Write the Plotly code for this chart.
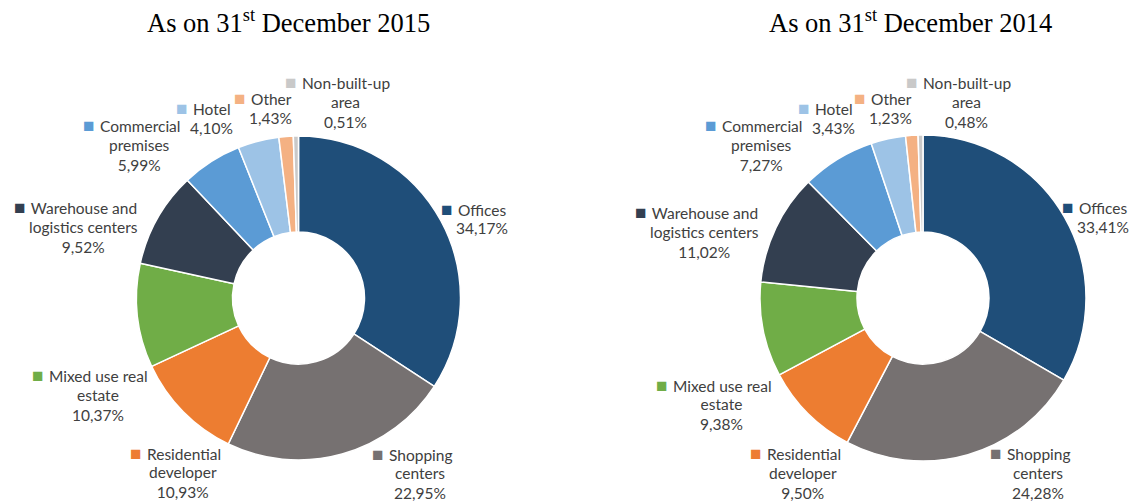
import math
import plotly.graph_objects as go

# ---------------- data ----------------
categories = ["Offices", "Shopping centers", "Residential developer", "Mixed use real estate",
              "Warehouse and logistics centers", "Commercial premises", "Hotel", "Other",
              "Non-built-up area"]
label_lines = [["Offices"], ["Shopping", "centers"], ["Residential", "developer"],
               ["Mixed use real", "estate"], ["Warehouse and", "logistics centers"],
               ["Commercial", "premises"], ["Hotel"], ["Other"], ["Non-built-up", "area"]]
values_2015 = [34.17, 22.95, 10.93, 10.37, 9.52, 5.99, 4.10, 1.43, 0.51]
values_2014 = [33.41, 24.28, 9.50, 9.38, 11.02, 7.27, 3.43, 1.23, 0.48]
title_2015 = "As on 31<sup>st</sup> December 2015"
title_2014 = "As on 31<sup>st</sup> December 2014"

# ---------------- style ----------------
colors = ["#1F4E79", "#767171", "#ED7D31", "#70AD47", "#333F50",
          "#5B9BD5", "#9DC3E6", "#F4B183", "#C9C9C9"]
W, H = 1132, 504
FS = 15.5
LS = 1.3 * FS  # plotly line spacing
LABEL_FONT = dict(family="Lato, Carlito, 'Open Sans', sans-serif", size=FS, color="#404040")
TITLE_FONT = dict(family="'Liberation Serif', 'Times New Roman', serif", size=26.5, color="#000000")
KEY_SHIFT = -8  # half width of the colour key + gap

# pie geometry in pixels (center x, center y from top, radius)
pies = [
    dict(values=values_2015, title=title_2015, cx=298.5, cy=298, r=162, title_x=288,
         nudges=[(2, 19), (66, -24), (32, 29), (5, 74), (-35, 31), (-48, 21), (-36, 20), (-12, 16), (50, 11)]),
    dict(values=values_2014, title=title_2014, cx=923, cy=298, r=163, title_x=911,
         nudges=[(0, 22), (58, -24), (26, 28), (2, 66), (-32, 23), (-53, 23), (-45, 22), (-18, 16), (47, 11)]),
]
LABEL_R = 207
HOLE_R = 66


def px(x):
    return x / W


def py(y):
    return 1 - y / H


fig = go.Figure()
annotations = []
for p in pies:
    cx, cy, r = p["cx"], p["cy"], p["r"]
    fig.add_trace(go.Pie(
        labels=categories, values=p["values"], sort=False, direction="clockwise", rotation=0,
        hole=HOLE_R / r, textinfo="none", showlegend=False,
        marker=dict(colors=colors, line=dict(color="white", width=1.5)),
        domain=dict(x=[px(cx - r), px(cx + r)], y=[py(cy + r), py(cy - r)]),
    ))
    total = sum(p["values"])
    cum = 0.0
    for i, v in enumerate(p["values"]):
        mid = (cum + v / 2) / total * 2 * math.pi
        cum += v
        lx = cx + LABEL_R * math.sin(mid) + p["nudges"][i][0]
        ly = cy - LABEL_R * math.cos(mid) + p["nudges"][i][1]
        lines = label_lines[i]
        pct = f"{v:.2f}%".replace(".", ",")
        rest = lines[1:] + [pct]
        n = len(rest) + 1
        first_y = ly - (n - 1) / 2 * LS
        rest_y = ly + LS / 2
        first = (f"<span style='color:{colors[i]};font-size:19px'>■</span>"
                 f"<span style='font-size:6px'> </span> {lines[0]}")
        annotations.append(dict(
            x=px(lx), y=py(first_y), xref="paper", yref="paper", text=first, showarrow=False,
            xanchor="center", yanchor="middle", align="center", font=LABEL_FONT, xshift=KEY_SHIFT,
        ))
        annotations.append(dict(
            x=px(lx), y=py(rest_y), xref="paper", yref="paper", text="<br>".join(rest),
            showarrow=False, xanchor="center", yanchor="middle", align="center", font=LABEL_FONT,
        ))
    annotations.append(dict(
        x=px(p["title_x"]), y=py(21), xref="paper", yref="paper", text=p["title"],
        showarrow=False, xanchor="center", yanchor="middle", font=TITLE_FONT,
    ))

fig.update_layout(
    width=W, height=H, margin=dict(l=0, r=0, t=0, b=0),
    paper_bgcolor="white", plot_bgcolor="white", annotations=annotations,
)
fig.write_html("out.html", config={"displayModeBar": False},
               post_script="document.body.style.margin='0';")
